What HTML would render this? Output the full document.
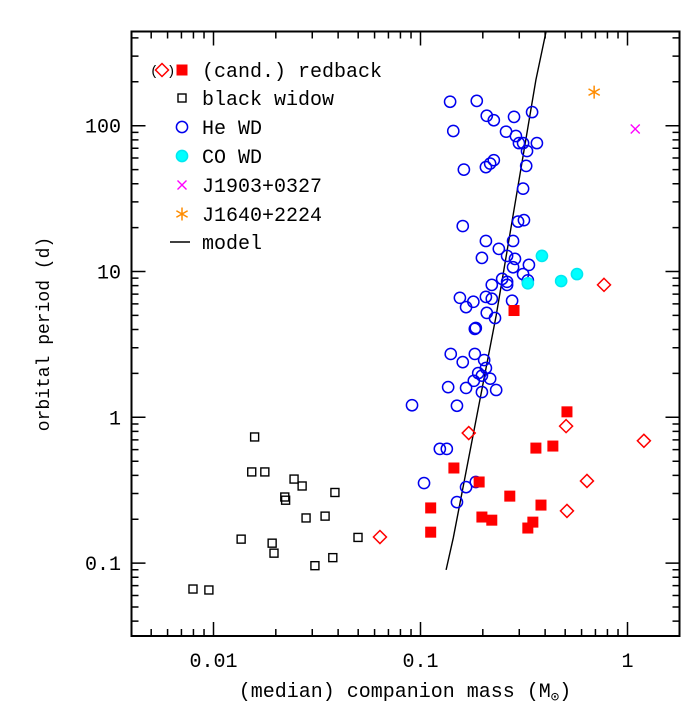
<!DOCTYPE html>
<html><head><meta charset="utf-8"><style>
html,body{margin:0;padding:0;background:#fff;}
svg{display:block;font-family:"Liberation Mono","DejaVu Sans Mono",monospace;}
</style></head><body>
<svg id="chart" width="698" height="709" viewBox="0 0 698 709" xmlns="http://www.w3.org/2000/svg">
<g id="marks"></g>
<g id="axes"></g>
<g id="legend"></g>
</svg>
<script>
// ---- data (mass in Msun, period in days) ----
const heMass = [0.139,0.187,0.209,0.226,0.283,0.346,0.144,0.259,0.289,0.299,0.313,0.365,0.327,0.162,0.207,0.217,0.226,0.324,0.313,0.160,0.296,0.316,0.207,0.280,0.239,0.198,0.262,0.286,0.334,0.280,0.313,0.330,0.221,0.248,0.262,0.262,0.155,0.180,0.207,0.221,0.277,0.166,0.209,0.229,0.183,0.185,0.140,0.183,0.160,0.203,0.190,0.207,0.198,0.217,0.181,0.136,0.166,0.232,0.198,0.091,0.150,0.124,0.134,0.104,0.166,0.185,0.150];
const hePeriod = [146,148,117,109,115,124,92,91,85,76,76,76,67,50,52,55,58,53,37,20.5,22,22.5,16.2,16.2,14.3,12.4,12.8,12.2,11.1,10.7,9.6,8.7,8.1,8.9,8.5,8.1,6.6,6.2,6.7,6.5,6.3,5.7,5.2,4.8,4.04,4.1,2.72,2.72,2.39,2.47,2.01,2.18,1.93,1.84,1.78,1.61,1.59,1.54,1.49,1.21,1.20,0.607,0.607,0.354,0.332,0.36,0.262];
const rbMass = [0.283,0.51,0.361,0.436,0.145,0.192,0.270,0.382,0.112,0.198,0.221,0.349,0.330,0.112];
const rbPeriod = [5.4,1.09,0.615,0.635,0.449,0.36,0.288,0.250,0.239,0.207,0.197,0.191,0.174,0.163];
const candMass = [0.171,0.505,0.51,0.637,0.77,1.20,0.0637];
const candPeriod = [0.78,0.87,0.228,0.366,8.1,0.69,0.151];
const coMass = [0.386,0.478,0.570,0.330];
const coPeriod = [12.8,8.6,9.6,8.3];
const bwMass = [0.00796,0.0095,0.0136,0.0158,0.0153,0.0177,0.0245,0.0268,0.0221,0.0223,0.0192,0.0196,0.028,0.0346,0.0386,0.0377,0.0309,0.0499];
const bwPeriod = [0.0664,0.0654,0.146,0.733,0.422,0.422,0.377,0.338,0.284,0.270,0.137,0.117,0.204,0.210,0.305,0.109,0.096,0.15];
const j1903Mass = [1.09], j1903Period = [95];
const j1640Mass = [0.69], j1640Period = [170];
const modelMass = [0.404,0.361,0.232,0.144,0.133];
const modelPeriod = [440,206,5.0,0.149,0.0898];
const xTickValues = [0.01,0.1,1];
const xTickLabels = ["0.01","0.1","1"];
const yTickValues = [0.1,1,10,100];
const yTickLabels = ["0.1","1","10","100"];

// ---- axes geometry ----
const L=131.5,R=679.5,T=31.5,B=636;
const xDec=207, x01=420.5, yDec=145.8, y100=125.7;
const X = m => x01 + (Math.log10(m)+1)*xDec;
const Y = p => y100 - (Math.log10(p)-2)*yDec;
const NS="http://www.w3.org/2000/svg";
function mk(tag, attrs, parent){const e=document.createElementNS(NS,tag);for(const k in attrs)e.setAttribute(k,attrs[k]);parent.appendChild(e);return e;}
const marks=document.getElementById('marks'), axes=document.getElementById('axes'), legend=document.getElementById('legend');

const defs=mk('defs',{},marks);
const cp=mk('clipPath',{id:'clip'},defs);
mk('rect',{x:L,y:T,width:R-L,height:B-T},cp);
const plot=mk('g',{'clip-path':'url(#clip)'},marks);

let d='';
modelMass.forEach((m,i)=>{d+=(i?'L':'M')+X(m).toFixed(1)+','+Y(modelPeriod[i]).toFixed(1);});
const ml=mk('path',{d:d,fill:'none',stroke:'#000','stroke-width':1.4},plot);



function circle(x,y,fill,stroke,name){const e=mk('circle',{cx:x,cy:y,r:5.6,fill:fill,stroke:stroke,'stroke-width':1.5},plot);

}
function square(x,y,s,fill,stroke,name,g){const e=mk('rect',{x:x-s/2,y:y-s/2,width:s,height:s,fill:fill,stroke:stroke,'stroke-width':1.4},g||plot);

}
function diamond(x,y,name,g){const r=6.5;const e=mk('path',{d:`M${x},${y-r}L${x+r},${y}L${x},${y+r}L${x-r},${y}Z`,fill:'none',stroke:'#f00','stroke-width':1.5},g||plot);

}

bwMass.forEach((m,i)=>square(X(m),Y(bwPeriod[i]),8,'none','#000','black-widow-point'));
heMass.forEach((m,i)=>circle(X(m),Y(hePeriod[i]),'none','#0000ee','he-wd-point'));
coMass.forEach((m,i)=>circle(X(m),Y(coPeriod[i]),'#00ffff','#00e8f0','co-wd-point'));
rbMass.forEach((m,i)=>square(X(m),Y(rbPeriod[i]),11,'#ff0000','none','redback-point'));
candMass.forEach((m,i)=>diamond(X(m),Y(candPeriod[i]),'candidate-redback-point'));
function cross(x,y,g,name){const r=4.5;const e=mk('path',{d:`M${x-r},${y-r}L${x+r},${y+r}M${x-r},${y+r}L${x+r},${y-r}`,stroke:'#ff00ff','stroke-width':1.4,fill:'none'},g);

}
function star(x,y,g,name){const r=6.5;let p='';for(let k=0;k<3;k++){const a=Math.PI/2+k*Math.PI/3;p+=`M${x+r*Math.cos(a)},${y-r*Math.sin(a)}L${x-r*Math.cos(a)},${y+r*Math.sin(a)}`;}
const e=mk('path',{d:p,stroke:'#ff8c00','stroke-width':1.5,fill:'none'},g);

}
j1903Mass.forEach((m,i)=>cross(X(m),Y(j1903Period[i]),plot,'j1903-point'));
j1640Mass.forEach((m,i)=>star(X(m),Y(j1640Period[i]),plot,'j1640-point'));

const fr=mk('rect',{x:L,y:T,width:R-L,height:B-T,fill:'none',stroke:'#000','stroke-width':2},axes);


let tk='';
for(let e=-3;e<=0;e++)for(let k=1;k<10;k++){const v=k*Math.pow(10,e);const x=X(v);if(x<L+1||x>R-1)continue;const len=k===1?14:7;
tk+=`M${x},${B}L${x},${B-len}M${x},${T}L${x},${T+len}`;}
for(let e=-2;e<=2;e++)for(let k=1;k<10;k++){const v=k*Math.pow(10,e);const y=Y(v);if(y<T+1||y>B-1)continue;const len=k===1?14:7;
tk+=`M${L},${y}L${L+len},${y}M${R},${y}L${R-len},${y}`;}
const tp=mk('path',{d:tk,stroke:'#000','stroke-width':1.5,fill:'none'},axes);


xTickValues.forEach((v,i)=>{const t=mk('text',{x:X(v),y:667,'text-anchor':'middle','font-size':20},axes);t.textContent=xTickLabels[i];

});
yTickValues.forEach((v,i)=>{const t=mk('text',{x:121,y:Y(v)+7,'text-anchor':'end','font-size':20},axes);t.textContent=yTickLabels[i];

});
const xt=mk('text',{x:405,y:697,'text-anchor':'middle','font-size':20},axes);
xt.textContent='(median) companion mass (M';
const sun=mk('tspan',{'font-size':14,dy:4},xt);sun.textContent='⊙';
const cl=mk('tspan',{dy:-4},xt);cl.textContent=')';


const yt=mk('text',{x:0,y:0,'text-anchor':'middle','font-size':18,transform:'translate(49,334) rotate(-90)'},axes);
yt.textContent='orbital period (d)';



const rows=[70,98,127,156,185,214,242];
const labels=['(cand.) redback','black widow','He WD','CO WD','J1903+0327','J1640+2224','model'];
const mx=182;
const p1=mk('text',{x:150,y:rows[0]+5,'font-size':14},legend);p1.textContent='(';
diamond(162,rows[0],'legend-candidate-marker',legend);
const p2=mk('text',{x:167,y:rows[0]+5,'font-size':14},legend);p2.textContent=')';
square(mx,rows[0],11,'#ff0000','none','legend-redback-marker',legend);
square(mx,rows[1],8,'none','#000','legend-black-widow-marker',legend);
{const e=mk('circle',{cx:mx,cy:rows[2],r:5.6,fill:'none',stroke:'#0000ee','stroke-width':1.5},legend);

}
{const e=mk('circle',{cx:mx,cy:rows[3],r:5.6,fill:'#00ffff',stroke:'#00e8f0','stroke-width':1.5},legend);

}
cross(mx,rows[4],legend,'legend-j1903-marker');
star(mx,rows[5],legend,'legend-j1640-marker');
{const e=mk('line',{x1:170,x2:190,y1:rows[6],y2:rows[6],stroke:'#000','stroke-width':1.6},legend);

}
labels.forEach((s,i)=>{const t=mk('text',{x:202,y:rows[i]+7,'font-size':20},legend);t.textContent=s;

});
</script>
</body></html>
